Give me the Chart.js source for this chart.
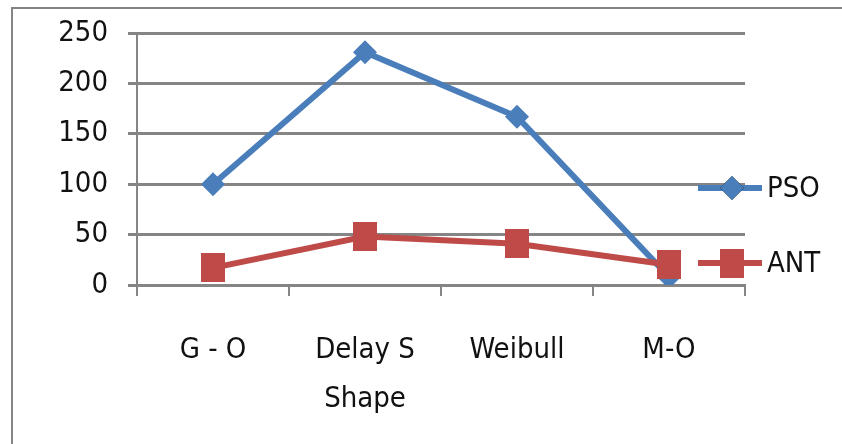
<!DOCTYPE html>
<html>
<head>
<meta charset="utf-8">
<script src="https://cdn.jsdelivr.net/npm/chart.js@4/dist/chart.umd.min.js"></script>
<style>
  html, body { margin: 0; padding: 0; background: #fff; }
  #wrap { width: 842px; height: 444px; position: relative; }
</style>
</head>
<body>
<div id="wrap"><canvas id="c" width="842" height="444"></canvas></div>
<script>
// Model categories and fitted values
const categories = ['G - O', ['Delay S', 'Shape'], 'Weibull', 'M-O'];
const psoValues = [100, 231, 167, 8];
const antValues = [17, 48, 41, 20];
const yTicks = [0, 50, 100, 150, 200, 250];

const FONT = "'Liberation Sans Narrow', 'DejaVu Sans Condensed', 'Liberation Sans', sans-serif";
const BLUE = '#4A7EBB';
const RED = '#BE4B48';
const GRID = '#858585';
const TEXT = '#111111';

// Square marker used for the ANT series
function squareMarker(w, h, color) {
  const cv = document.createElement('canvas');
  cv.width = w; cv.height = h;
  const g = cv.getContext('2d');
  g.fillStyle = color;
  g.fillRect(0, 0, w, h);
  return cv;
}
const antMarker = squareMarker(24, 29, RED);

// Frame around the chart object
const framePlugin = {
  id: 'frame',
  beforeDraw(chart) {
    const ctx = chart.ctx;
    ctx.save();
    ctx.strokeStyle = GRID;
    ctx.lineWidth = 2;
    ctx.beginPath();
    ctx.moveTo(12, 444);
    ctx.lineTo(12, 8);
    ctx.lineTo(842, 8);
    ctx.stroke();
    ctx.restore();
  }
};

// Legend drawn at the right with line + marker samples
const sideLegend = {
  id: 'sideLegend',
  afterDraw(chart) {
    const ctx = chart.ctx;
    const rows = [
      { ds: chart.data.datasets[0], y: 188 },
      { ds: chart.data.datasets[1], y: 263 }
    ];
    ctx.save();
    rows.forEach(r => {
      ctx.strokeStyle = r.ds.borderColor;
      ctx.lineWidth = 6;
      ctx.beginPath();
      ctx.moveTo(698, r.y);
      ctx.lineTo(762, r.y);
      ctx.stroke();
      const st = r.ds.pointStyle;
      if (st instanceof HTMLCanvasElement) {
        ctx.drawImage(st, 732 - st.width / 2, r.y - st.height / 2);
      } else {
        Chart.helpers.drawPoint(ctx, { pointStyle: st, radius: r.ds.pointRadius, borderWidth: 0 }, 732, r.y);
        ctx.fillStyle = r.ds.backgroundColor;
        ctx.fill();
      }
      ctx.fillStyle = TEXT;
      ctx.font = '29px ' + FONT;
      ctx.textBaseline = 'middle';
      ctx.textAlign = 'left';
      ctx.fillText(r.ds.label, 767, r.y + 1);
    });
    ctx.restore();
  }
};

new Chart(document.getElementById('c'), {
  type: 'line',
  data: {
    labels: categories,
    datasets: [
      {
        label: 'PSO',
        data: psoValues,
        borderColor: BLUE,
        backgroundColor: BLUE,
        borderWidth: 6,
        pointStyle: 'rectRot',
        pointRadius: 12,
        pointBorderWidth: 0,
        tension: 0,
        order: 1
      },
      {
        label: 'ANT',
        data: antValues,
        borderColor: RED,
        backgroundColor: RED,
        borderWidth: 6,
        pointStyle: antMarker,
        pointRadius: 12,
        pointBorderWidth: 0,
        tension: 0,
        order: 0
      }
    ]
  },
  options: {
    responsive: false,
    animation: false,
    devicePixelRatio: 1,
    layout: { padding: { top: 33, right: 97, left: 0, bottom: 0 } },
    plugins: {
      legend: { display: false },
      tooltip: { enabled: false }
    },
    scales: {
      x: {
        type: 'category',
        offset: true,
        grid: {
          offset: true,
          drawOnChartArea: false,
          drawTicks: true,
          tickLength: 11,
          color: GRID,
          lineWidth: 2
        },
        border: { display: true, color: GRID, width: 2 },
        ticks: {
          color: TEXT,
          font: { family: FONT, size: 29, lineHeight: 1.7 },
          padding: 30,
          maxRotation: 0,
          autoSkip: false
        },
        afterFit(scale) { scale.height = 159; }
      },
      y: {
        min: 0,
        max: 250,
        afterBuildTicks(scale) { scale.ticks = yTicks.map(v => ({ value: v })); },
        grid: {
          color: GRID,
          lineWidth: 3,
          tickLength: 9,
          drawTicks: true
        },
        border: { display: true, color: GRID, width: 2 },
        ticks: {
          color: TEXT,
          font: { family: FONT, size: 29 },
          padding: 20
        },
        afterFit(scale) {
          scale.width = 137;
          scale.paddingTop = 0;
          scale.paddingBottom = 0;
        }
      }
    }
  },
  plugins: [framePlugin, sideLegend]
});
</script>
</body>
</html>
